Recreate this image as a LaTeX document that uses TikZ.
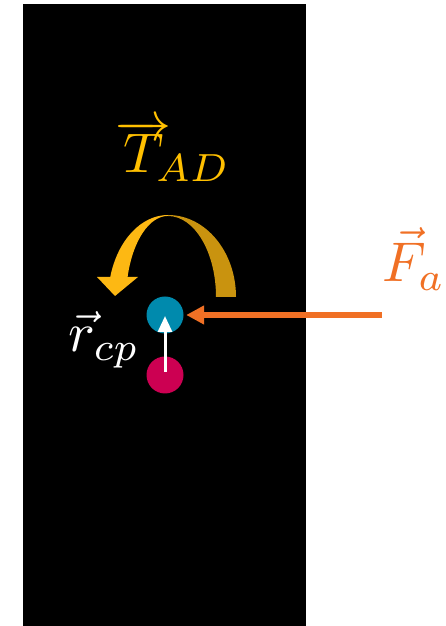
\documentclass[tikz,border=0pt]{standalone}
\usetikzlibrary{arrows.meta}
\definecolor{cpblue}{HTML}{008AAD}
\definecolor{cgred}{HTML}{CC0052}
\definecolor{arrowgold}{HTML}{FDB813}
\definecolor{arrowdark}{HTML}{C9930F}
\definecolor{tgold}{HTML}{FFC000}
\definecolor{forange}{HTML}{F07025}
\begin{document}
\begin{tikzpicture}[x=1pt,y=1pt,
  dot/.style={circle, inner sep=0pt, minimum size=37pt},
  label6/.style={scale=5.6, anchor=base, inner sep=0pt},
  rvec/.style={draw=white, line width=3pt, -{Triangle[length=16pt,width=14pt]}},
  fvec/.style={draw=forange, line width=6pt, -{Triangle[length=18pt,width=18pt]}}]
\useasboundingbox (0,0) rectangle (446,626);
\fill[black] (23,0) rectangle (306,622);
% curved torque arrow
\fill[arrowdark] (168,411) arc[start angle=90,end angle=0,x radius=68pt,y radius=82pt]
  -- (216,329) arc[start angle=0,end angle=90,x radius=48pt,y radius=81pt] -- cycle;
\fill[arrowgold] (168,411) arc[start angle=90,end angle=164.3,x radius=60pt,y radius=85pt]
  -- (97,349) -- (115,330) -- (138,349) -- (127.6,349.2)
  arc[start angle=164,end angle=90,x radius=42pt,y radius=84pt] -- cycle;
% points
\node[dot, fill=cpblue] (cp) at (165,311) {};
\node[dot, fill=cgred] (cg) at (165,251) {};
\coordinate (fstart) at (382,311);
\draw[rvec, shorten <=3pt, shorten >=1pt] (cg.center) -- (cp.center);
\draw[fvec, shorten >=2.5pt] (fstart) -- (cp.east);
% labels
\node[label6, text=tgold] (tad) at (173,453) {$\overrightarrow{T}_{\!\!AD}$};
\node[label6, text=forange] (fa) at (414,344) {$\vec{F}_a$};
\node[label6, text=white] (rcp) at (104,274) {$\vec{r}_{cp}$};
\end{tikzpicture}
\end{document}
